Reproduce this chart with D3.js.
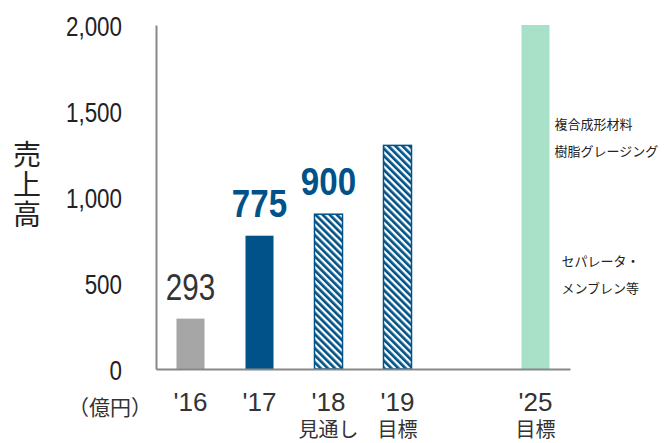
<!DOCTYPE html>
<html>
<head>
<meta charset="utf-8">
<script src="https://cdn.jsdelivr.net/npm/d3@7"></script>
<style>
  body { margin: 0; background: #fff; }
  svg { display: block; }
</style>
</head>
<body>
<div id="chart"></div>
<script>
// data
const categories = ["'16", "'17", "'18", "'19", "gap", "'25"];
const subLabels = ["", "", "見通し", "目標", "", "目標"];
const sales = [293, 775, 900, 1300, null, 2000];
const valueLabels = ["293", "775", "900", "", "", ""];
const yTicks = [0, 500, 1000, 1500, 2000];
const noteLines = ["複合成形材料", "樹脂グレージング", "セパレータ・", "メンブレン等"];
const noteValues = [1420, 1265, 625, 470];

const width = 666, height = 443;
const margin = { top: 25, right: 96, bottom: 74, left: 156 };
const narrow = 0.8; // the numbers are set in a condensed face

const svg = d3.select('#chart').append('svg')
  .attr('width', width)
  .attr('height', height);

const defs = svg.append('defs');
const pat = defs.append('pattern')
  .attr('id', 'hatch')
  .attr('patternUnits', 'userSpaceOnUse')
  .attr('width', 5)
  .attr('height', 5)
  .attr('patternTransform', 'rotate(-45)');
pat.append('rect').attr('width', 5).attr('height', 5).attr('fill', '#fff');
pat.append('rect').attr('width', 2.7).attr('height', 5).attr('fill', '#005288');

const x = d3.scaleBand()
  .domain(categories)
  .range([margin.left, width - margin.right])
  .paddingInner(0.594)
  .paddingOuter(0.297);

const y = d3.scaleLinear()
  .domain([0, 2000])
  .range([height - margin.bottom, margin.top]);

const fills = ['#a6a6a6', '#005288', 'url(#hatch)', 'url(#hatch)', 'none', '#a8e0c8'];

const rows = categories.map((c, i) => ({ c, v: sales[i], i }));

// bars
svg.append('g').selectAll('rect')
  .data(rows.filter(d => d.v != null))
  .join('rect')
  .attr('x', d => x(d.c))
  .attr('y', d => y(d.v))
  .attr('width', x.bandwidth())
  .attr('height', d => y(0) - y(d.v))
  .attr('fill', d => fills[d.i])
  .attr('stroke', d => fills[d.i].startsWith('url') ? '#005288' : 'none')
  .attr('stroke-width', 1.5);

// value labels
svg.append('g').selectAll('text')
  .data(rows.filter(d => valueLabels[d.i]))
  .join('text')
  .attr('transform', d => `translate(${x(d.c) + x.bandwidth() / 2},${y(d.v) - 19}) scale(${d.i === 0 ? narrow : 0.85},1)`)
  .attr('text-anchor', 'middle')
  .attr('font-family', '"Liberation Sans", Arial, sans-serif')
  .attr('font-size', d => d.i === 0 ? 37 : 39)
  .attr('font-weight', d => d.i === 0 ? 'normal' : 'bold')
  .attr('fill', d => d.i === 0 ? '#333' : '#005288')
  .text(d => valueLabels[d.i]);

// y axis
const yAxis = d3.axisLeft(y)
  .tickValues(yTicks)
  .tickSize(0)
  .tickPadding(34)
  .tickFormat(d3.format(','));

const gy = svg.append('g')
  .attr('transform', `translate(${margin.left},0)`)
  .call(yAxis);
gy.select('.domain').attr('stroke', '#888').attr('stroke-width', 2);
gy.selectAll('text')
  .attr('x', 0)
  .attr('transform', `translate(-34,0) scale(${narrow},1)`)
  .attr('font-family', '"Liberation Sans", Arial, sans-serif')
  .attr('font-size', 28)
  .attr('fill', '#222')
  .attr('dy', '0.36em');

// x axis
const xAxis = d3.axisBottom(x)
  .tickSize(0)
  .tickPadding(24)
  .tickFormat(d => d === 'gap' ? '' : d);

const gx = svg.append('g')
  .attr('transform', `translate(0,${y(0)})`)
  .call(xAxis);
gx.select('.domain').attr('stroke', '#888').attr('stroke-width', 2);
gx.selectAll('text')
  .attr('font-family', '"Liberation Sans", Arial, sans-serif')
  .attr('font-size', 26)
  .attr('fill', '#333');

// second line of the x labels, kept in the same text as the year
gx.selectAll('.tick text')
  .filter(d => subLabels[categories.indexOf(d)])
  .append('tspan')
  .attr('x', 0)
  .attr('dy', 26)
  .attr('font-family', '"Noto Sans CJK JP", sans-serif')
  .attr('font-size', 20)
  .text(d => subLabels[categories.indexOf(d)]);

// unit
svg.append('text')
  .attr('x', 110)
  .attr('y', y(0) + 46)
  .attr('text-anchor', 'middle')
  .attr('font-family', '"Noto Sans CJK JP", sans-serif')
  .attr('font-size', 21)
  .attr('fill', '#333')
  .text('（億円）');

// vertical axis title
svg.append('text')
  .attr('x', 27)
  .attr('y', 140)
  .style('writing-mode', 'vertical-rl')
  .style('letter-spacing', '2px')
  .attr('font-family', '"Noto Sans CJK JP", sans-serif')
  .attr('font-size', 28)
  .attr('fill', '#222')
  .text('売上高');

// notes beside the 2025 bar
const xNote = x("'25") + x.bandwidth();
svg.append('g').selectAll('text')
  .data(noteLines)
  .join('text')
  .attr('x', (d, i) => xNote + (i < 2 ? 5 : 12))
  .attr('y', (d, i) => y(noteValues[i]))
  .attr('dy', '0.35em')
  .attr('font-family', '"Noto Sans CJK JP", sans-serif')
  .attr('font-size', 13)
  .attr('fill', '#222')
  .text(d => d);
</script>
</body>
</html>
